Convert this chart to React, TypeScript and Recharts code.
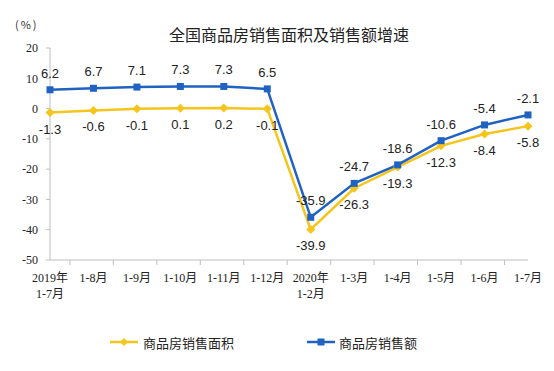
import React from 'react';
import {
  LineChart,
  Line,
  XAxis,
  YAxis,
  Legend,
} from 'recharts';

const months = [
  '2019年\n1-7月',
  '1-8月',
  '1-9月',
  '1-10月',
  '1-11月',
  '1-12月',
  '2020年\n1-2月',
  '1-3月',
  '1-4月',
  '1-5月',
  '1-6月',
  '1-7月',
];
const areaGrowth = [-1.3, -0.6, -0.1, 0.1, 0.2, -0.1, -39.9, -26.3, -19.3, -12.3, -8.4, -5.8];
const salesGrowth = [6.2, 6.7, 7.1, 7.3, 7.3, 6.5, -35.9, -24.7, -18.6, -10.6, -5.4, -2.1];
const yTicks = [-50, -40, -30, -20, -10, 0, 10, 20];

const data = months.map((m, i) => ({ name: m, area: areaGrowth[i], sales: salesGrowth[i] }));

const W = 554;
const H = 371;
const M = { top: 48, right: 26, bottom: 19, left: 0 };
const Y_W = 50;
const BAND = (W - M.left - M.right - Y_W) / months.length;

const BLUE = '#1F62C2';
const YELLOW = '#F5C51C';
const BORDER = '#BFBFBF';

const ValueText = ({ x, y, v }: { x: number; y: number; v: number }) => (
  <text
    x={x}
    y={y}
    textAnchor="middle"
    fontSize={13}
    fill="#222"
    fontFamily="'Liberation Sans', Arial, sans-serif"
  >
    {v.toFixed(1)}
  </text>
);

// dots also carry the data label, above for sales, below for area
const SquareDot = (props: any) => {
  const { cx, cy, value } = props;
  if (cx == null || cy == null) return null;
  return (
    <g>
      <rect x={cx - 3.5} y={cy - 3.5} width={7} height={7} fill={BLUE} />
      <ValueText x={cx} y={cy - 12} v={Number(value)} />
    </g>
  );
};

const DiamondDot = (props: any) => {
  const { cx, cy, value } = props;
  if (cx == null || cy == null) return null;
  return (
    <g>
      <path d={`M${cx},${cy - 4.5}L${cx + 4.5},${cy}L${cx},${cy + 4.5}L${cx - 4.5},${cy}Z`} fill={YELLOW} />
      <ValueText x={cx} y={cy + 21} v={Number(value)} />
    </g>
  );
};

const MonthTick = (props: any) => {
  const { x, y, payload, index } = props;
  const lines = String(payload.value).split('\n');
  return (
    <g>
      {index < months.length - 1 && (
        <line x1={x + BAND / 2} y1={y} x2={x + BAND / 2} y2={y + 5} stroke={BORDER} />
      )}
      {lines.map((l, i) => (
        <text
          key={i}
          x={x}
          y={y + 22 + i * 16}
          textAnchor="middle"
          fontSize={12}
          fill="#222"
          fontFamily="'Liberation Serif', 'Noto Sans CJK SC', serif"
        >
          {l}
        </text>
      ))}
    </g>
  );
};

const LegendContent = () => (
  <div
    style={{
      width: W,
      height: 20,
      display: 'flex',
      alignItems: 'center',
      paddingLeft: 110,
      boxSizing: 'border-box',
      fontFamily: "'Noto Sans CJK SC', sans-serif",
      fontSize: 13,
      color: '#222',
    }}
  >
    <div style={{ display: 'flex', alignItems: 'center', width: 197 }}>
      <svg width={28} height={10} style={{ marginRight: 5 }}>
        <line x1={0} y1={5} x2={28} y2={5} stroke={YELLOW} strokeWidth={2.5} />
        <path d="M14,1L18,5L14,9L10,5Z" fill={YELLOW} />
      </svg>
      <span>商品房销售面积</span>
    </div>
    <div style={{ display: 'flex', alignItems: 'center' }}>
      <svg width={28} height={10} style={{ marginRight: 4 }}>
        <line x1={0} y1={5} x2={28} y2={5} stroke={BLUE} strokeWidth={2.5} />
        <rect x={10.5} y={1.5} width={7} height={7} fill={BLUE} />
      </svg>
      <span>商品房销售额</span>
    </div>
  </div>
);

export default function App() {
  return (
    <div style={{ position: 'absolute', left: 0, top: 0, width: W, height: H, background: '#fff' }}>
      <div
        style={{
          position: 'absolute',
          left: 0,
          width: 578,
          top: 23,
          textAlign: 'center',
          fontFamily: "'Noto Sans CJK SC', sans-serif",
          fontSize: 16,
          lineHeight: '22px',
          color: '#222',
        }}
      >
        全国商品房销售面积及销售额增速
      </div>
      <div
        style={{
          position: 'absolute',
          left: 15,
          top: 16,
          fontFamily: "'Noto Sans CJK SC', sans-serif",
          fontSize: 11,
          lineHeight: '16px',
          letterSpacing: 2,
          color: '#333',
        }}
      >
        (%)
      </div>
      <LineChart width={W} height={H} data={data} margin={M}>
        <XAxis
          dataKey="name"
          interval={0}
          height={72}
          tickSize={0}
          tickMargin={0}
          tick={<MonthTick />}
          axisLine={{ stroke: BORDER }}
        />
        <XAxis
          xAxisId="top"
          dataKey="name"
          orientation="top"
          height={0}
          tick={false}
          tickLine={false}
          axisLine={{ stroke: BORDER }}
        />
        <YAxis
          domain={[-50, 20]}
          ticks={yTicks}
          interval={0}
          width={Y_W}
          tickSize={4}
          tickMargin={8}
          axisLine={{ stroke: BORDER }}
          tickLine={{ stroke: BORDER }}
          tick={{ fontSize: 12, fill: '#222', fontFamily: "'Liberation Serif', serif" }}
        />
        <YAxis
          yAxisId="right"
          orientation="right"
          domain={[-50, 20]}
          width={0}
          tick={false}
          tickLine={false}
          axisLine={{ stroke: BORDER }}
        />
        <Legend verticalAlign="bottom" wrapperStyle={{ left: 0, width: W }} content={<LegendContent />} />
        <Line
          dataKey="area"
          stroke={YELLOW}
          strokeWidth={2.5}
          dot={<DiamondDot />}
          activeDot={false}
          isAnimationActive={false}
        />
        <Line
          dataKey="sales"
          stroke={BLUE}
          strokeWidth={2.5}
          dot={<SquareDot />}
          activeDot={false}
          isAnimationActive={false}
        />
      </LineChart>
    </div>
  );
}
